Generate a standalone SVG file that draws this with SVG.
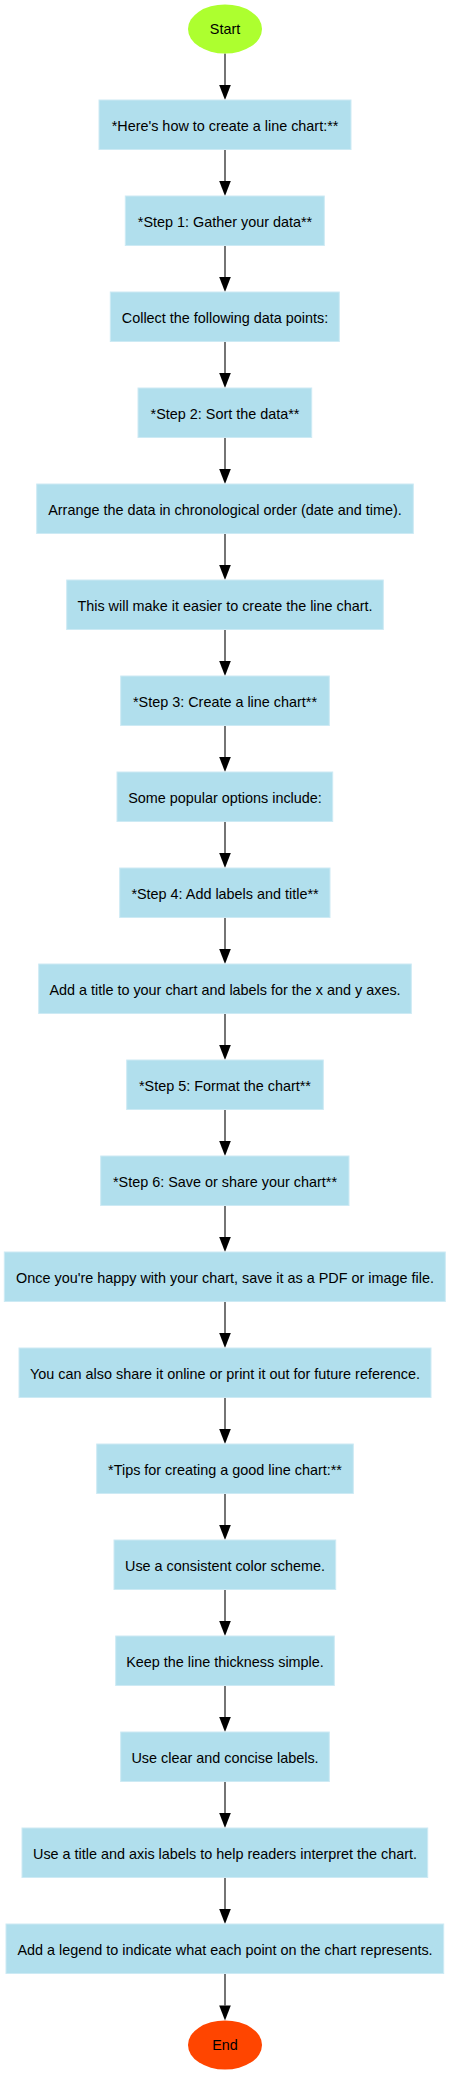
<svg xmlns="http://www.w3.org/2000/svg" width="450" height="2075" viewBox="0 0 450 2075">
<defs>
<style>
.n rect{fill:#b1dfed;stroke:#cdeaf4;stroke-width:1}
text{font-family:"Liberation Sans",Arial,sans-serif;font-size:14.4px;fill:#000;text-anchor:middle}
.e line{stroke:#3a3a3a;stroke-width:1.4}
</style>
<marker id="ah" markerUnits="userSpaceOnUse" viewBox="0 -6 15 12" refX="0" refY="0" markerWidth="15" markerHeight="12" orient="auto" overflow="visible">
<path d="M0,-5.8 L15,0 L0,5.8 z" fill="#000"/>
</marker>
</defs>
<rect width="450" height="2075" fill="#fff"/>
<g id="edges" class="e">
<line x1="225" y1="53.5" x2="225" y2="85" marker-end="url(#ah)"/>
<line x1="225" y1="149.5" x2="225" y2="181" marker-end="url(#ah)"/>
<line x1="225" y1="245.5" x2="225" y2="277" marker-end="url(#ah)"/>
<line x1="225" y1="341.5" x2="225" y2="373" marker-end="url(#ah)"/>
<line x1="225" y1="437.5" x2="225" y2="469" marker-end="url(#ah)"/>
<line x1="225" y1="533.5" x2="225" y2="565" marker-end="url(#ah)"/>
<line x1="225" y1="629.5" x2="225" y2="661" marker-end="url(#ah)"/>
<line x1="225" y1="725.5" x2="225" y2="757" marker-end="url(#ah)"/>
<line x1="225" y1="821.5" x2="225" y2="853" marker-end="url(#ah)"/>
<line x1="225" y1="917.5" x2="225" y2="949" marker-end="url(#ah)"/>
<line x1="225" y1="1013.5" x2="225" y2="1045" marker-end="url(#ah)"/>
<line x1="225" y1="1109.5" x2="225" y2="1141" marker-end="url(#ah)"/>
<line x1="225" y1="1205.5" x2="225" y2="1237" marker-end="url(#ah)"/>
<line x1="225" y1="1301.5" x2="225" y2="1333" marker-end="url(#ah)"/>
<line x1="225" y1="1397.5" x2="225" y2="1429" marker-end="url(#ah)"/>
<line x1="225" y1="1493.5" x2="225" y2="1525" marker-end="url(#ah)"/>
<line x1="225" y1="1589.5" x2="225" y2="1621" marker-end="url(#ah)"/>
<line x1="225" y1="1685.5" x2="225" y2="1717" marker-end="url(#ah)"/>
<line x1="225" y1="1781.5" x2="225" y2="1813" marker-end="url(#ah)"/>
<line x1="225" y1="1877.5" x2="225" y2="1909" marker-end="url(#ah)"/>
<line x1="225" y1="1973.5" x2="225" y2="2005.5" marker-end="url(#ah)"/>
</g>
<g id="start"><ellipse cx="225" cy="29" rx="37" ry="24.5" fill="#adff2f"/><text x="225" y="34.3">Start</text></g>
<g id="n0" class="n"><rect x="99" y="100" width="252" height="49.5"/><text x="225" y="130.5">*Here's how to create a line chart:**</text></g>
<g id="n1" class="n"><rect x="125.3" y="196" width="199" height="49.5"/><text x="225" y="226.5">*Step 1: Gather your data**</text></g>
<g id="n2" class="n"><rect x="110.3" y="292" width="229" height="49.5"/><text x="225" y="322.5">Collect the following data points:</text></g>
<g id="n3" class="n"><rect x="138" y="388" width="173.7" height="49.5"/><text x="225" y="418.5">*Step 2: Sort the data**</text></g>
<g id="n4" class="n"><rect x="36.7" y="484" width="376.6" height="49.5"/><text x="225" y="514.5">Arrange the data in chronological order (date and time).</text></g>
<g id="n5" class="n"><rect x="66.7" y="580" width="316.6" height="49.5"/><text x="225" y="610.5">This will make it easier to create the line chart.</text></g>
<g id="n6" class="n"><rect x="120.7" y="676" width="208.6" height="49.5"/><text x="225" y="706.5">*Step 3: Create a line chart**</text></g>
<g id="n7" class="n"><rect x="117" y="772" width="215.7" height="49.5"/><text x="225" y="802.5">Some popular options include:</text></g>
<g id="n8" class="n"><rect x="119.7" y="868" width="210.3" height="49.5"/><text x="225" y="898.5">*Step 4: Add labels and title**</text></g>
<g id="n9" class="n"><rect x="38.7" y="964" width="372.6" height="49.5"/><text x="225" y="994.5">Add a title to your chart and labels for the x and y axes.</text></g>
<g id="n10" class="n"><rect x="126.7" y="1060" width="196.6" height="49.5"/><text x="225" y="1090.5">*Step 5: Format the chart**</text></g>
<g id="n11" class="n"><rect x="100.7" y="1156" width="248.3" height="49.5"/><text x="225" y="1186.5">*Step 6: Save or share your chart**</text></g>
<g id="n12" class="n"><rect x="4.3" y="1252" width="441" height="49.5"/><text x="225" y="1282.5">Once you're happy with your chart, save it as a PDF or image file.</text></g>
<g id="n13" class="n"><rect x="19" y="1348" width="412" height="49.5"/><text x="225" y="1378.5">You can also share it online or print it out for future reference.</text></g>
<g id="n14" class="n"><rect x="96.7" y="1444" width="256.6" height="49.5"/><text x="225" y="1474.5">*Tips for creating a good line chart:**</text></g>
<g id="n15" class="n"><rect x="114" y="1540" width="221.7" height="49.5"/><text x="225" y="1570.5">Use a consistent color scheme.</text></g>
<g id="n16" class="n"><rect x="115.7" y="1636" width="218.6" height="49.5"/><text x="225" y="1666.5">Keep the line thickness simple.</text></g>
<g id="n17" class="n"><rect x="120.7" y="1732" width="208.6" height="49.5"/><text x="225" y="1762.5">Use clear and concise labels.</text></g>
<g id="n18" class="n"><rect x="22" y="1828" width="405.7" height="49.5"/><text x="225" y="1858.5">Use a title and axis labels to help readers interpret the chart.</text></g>
<g id="n19" class="n"><rect x="6" y="1924" width="437.7" height="49.5"/><text x="225" y="1954.5">Add a legend to indicate what each point on the chart represents.</text></g>
<g id="end"><ellipse cx="225" cy="2045" rx="37" ry="24.5" fill="#ff4500"/><text x="225" y="2050.3">End</text></g>
</svg>
